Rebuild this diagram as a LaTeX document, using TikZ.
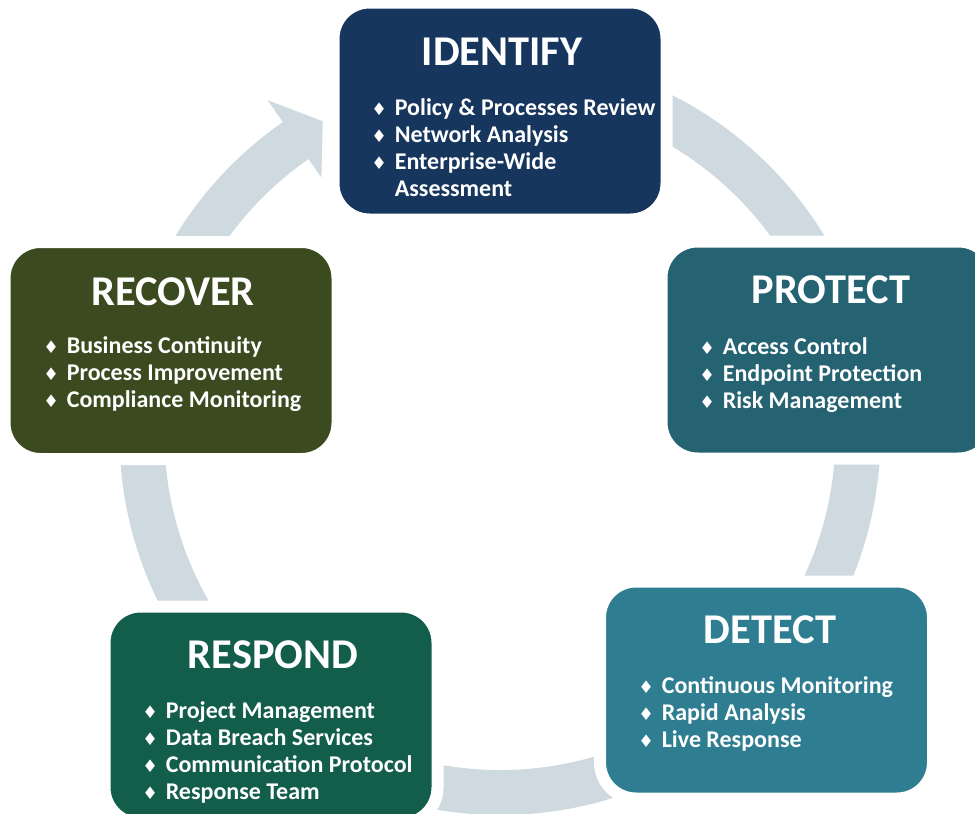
\documentclass[tikz,border=0pt]{standalone}
\usepackage{fontspec}
\setmainfont{Carlito}
\newfontfamily\suitfont{DejaVu Sans}
\definecolor{ringgray}{HTML}{CED9E0}
\definecolor{idblue}{HTML}{17365D}
\definecolor{prteal}{HTML}{256373}
\definecolor{detteal}{HTML}{2E7D91}
\definecolor{resgreen}{HTML}{135E4B}
\definecolor{recolive}{HTML}{3B4A1F}
\newcommand{\bul}{{\suitfont\fontsize{13pt}{13pt}\selectfont\char"2666}}
\tikzset{
  phase/.style={rounded corners=27pt, draw=white, line width=9pt,
    minimum width=249.75pt, minimum height=162.75pt, inner sep=0pt},
  title/.style={text=white, anchor=base, inner sep=0pt,
    font=\bfseries\fontsize{31.8}{36}\selectfont},
  items/.style={text=white, anchor=base west, inner sep=0pt,
    font=\bfseries\fontsize{18}{20.25}\selectfont}
}
\begin{document}
\begin{tikzpicture}[x=0.75pt,y=-0.75pt]
  \useasboundingbox (0,0) rectangle (975,814);
  % Kreismitte des Rings
  \coordinate (c) at (500,434.5);
  % Ring mit Pfeilspitze
  \draw[ringgray,line width=33.75pt] (c) ++(-80:358) arc[start angle=-80,end angle=236,radius=358];
  \fill[ringgray] ([shift={(235.2:407)}]c) -- ([shift={(240.5:360)}]c) -- ([shift={(235.2:313)}]c) -- cycle;
  % Kästen
  \node[phase,fill=idblue]    (identify) at (500,111)   {};
  \node[phase,fill=prteal]    (protect)  at (828,350)   {};
  \node[phase,fill=detteal]   (detect)   at (766.5,690) {};
  \node[phase,fill=resgreen]  (respond)  at (271,715)   {};
  \node[phase,fill=recolive]  (recover)  at (171,350.5) {};
  % Überschriften
  \node[title] (identifyT) at (502,65)  {IDENTIFY};
  \node[title] (protectT)  at (831,303) {PROTECT};
  \node[title] (detectT)   at (770,643) {DETECT};
  \node[title] (respondT)  at (273,668) {RESPOND};
  \node[title] (recoverT)  at (173,305) {RECOVER};
  % Stichpunkte
  \node[items] (identifyL) at (371,115) {\begin{tabular}[t]{@{}l@{\hspace{6pt}}l@{}}
    \bul & Policy \& Processes Review\\ \bul & Network Analysis\\
    \bul & Enterprise-Wide\\ & Assessment\end{tabular}};
  \node[items] (protectL) at (699,354) {\begin{tabular}[t]{@{}l@{\hspace{6pt}}l@{}}
    \bul & Access Control\\ \bul & Endpoint Protection\\ \bul & Risk Management\end{tabular}};
  \node[items] (detectL) at (638,693) {\begin{tabular}[t]{@{}l@{\hspace{6pt}}l@{}}
    \bul & Continuous Monitoring\\ \bul & Rapid Analysis\\ \bul & Live Response\end{tabular}};
  \node[items] (respondL) at (142,718) {\begin{tabular}[t]{@{}l@{\hspace{6pt}}l@{}}
    \bul & Project Management\\ \bul & Data Breach Services\\
    \bul & Communication Protocol\\ \bul & Response Team\end{tabular}};
  \node[items] (recoverL) at (43,353) {\begin{tabular}[t]{@{}l@{\hspace{6pt}}l@{}}
    \bul & Business Continuity\\ \bul & Process Improvement\\ \bul & Compliance Monitoring\end{tabular}};
\end{tikzpicture}
\end{document}
